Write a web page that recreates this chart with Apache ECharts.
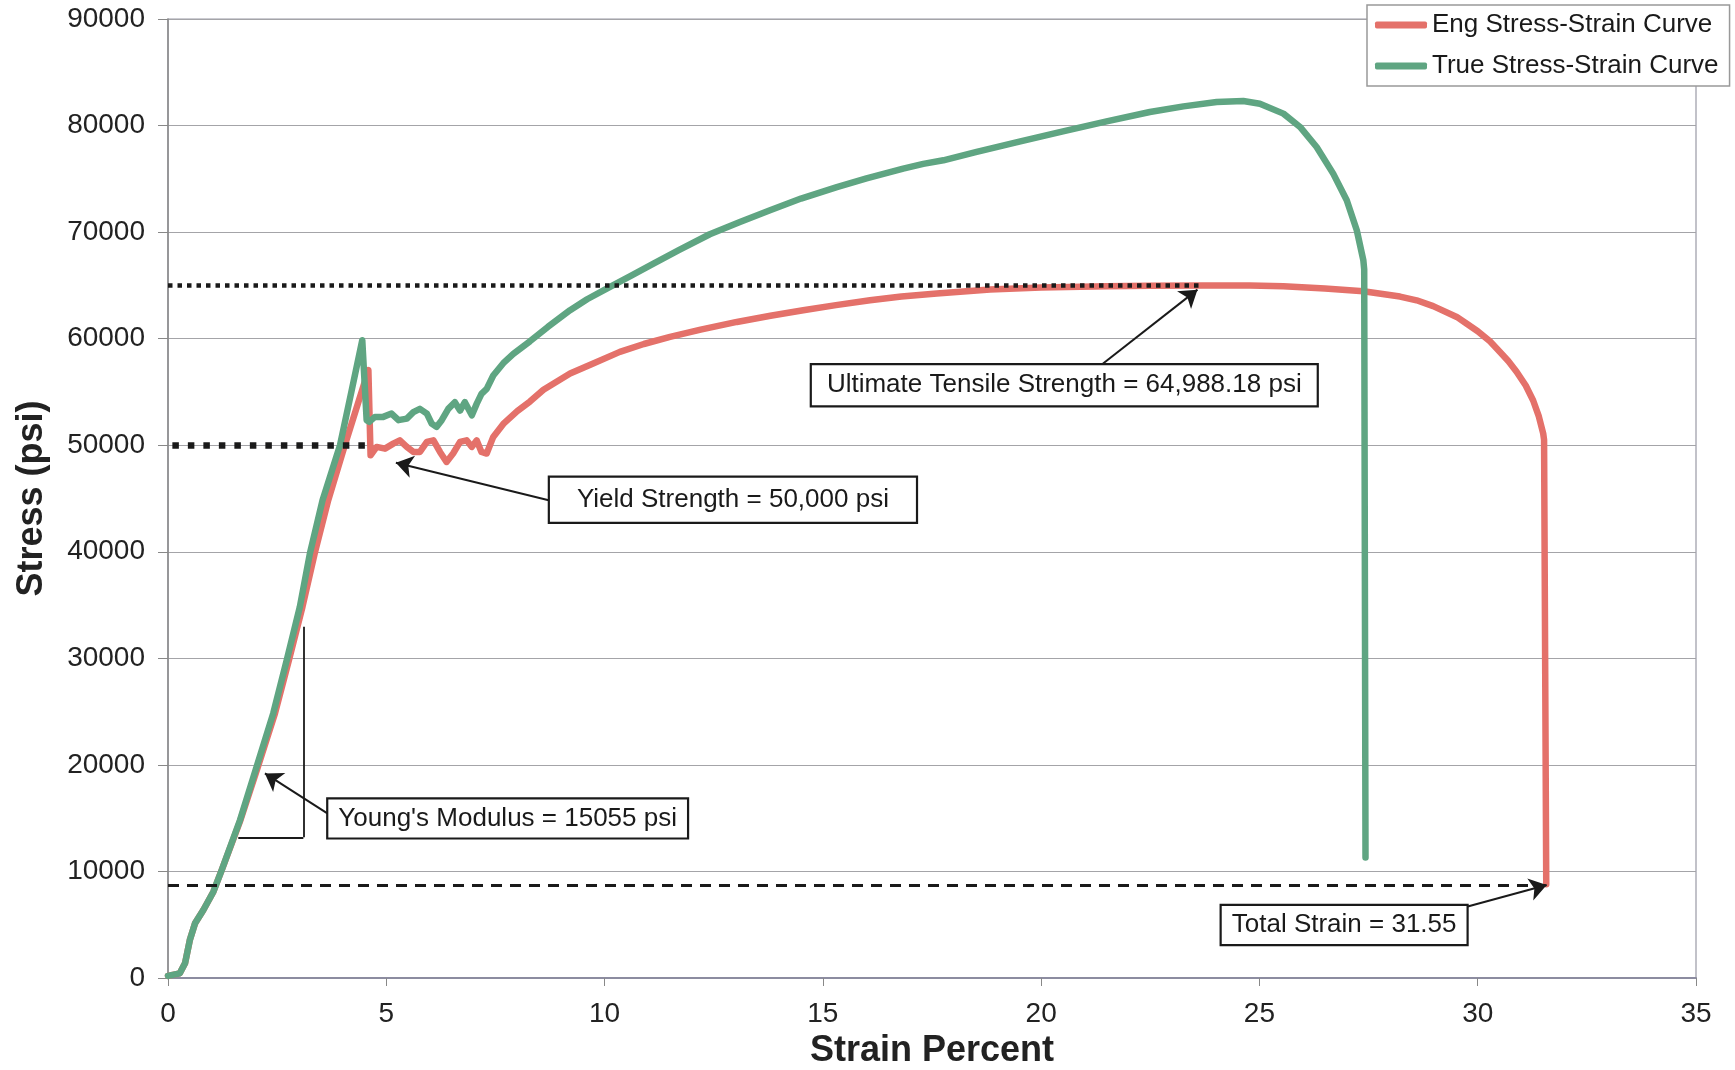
<!DOCTYPE html>
<html><head><meta charset="utf-8">
<script src="https://cdn.jsdelivr.net/npm/echarts@6/dist/echarts.min.js"></script>
<style>html,body{margin:0;padding:0;background:#fff}#c{width:1735px;height:1070px}</style>
</head><body><div id="c"></div>
<script>
// ---- data (strain %, stress psi) ----
const engStrain = [0,0.27,0.39,0.5,0.62,0.81,1.04,1.23,1.66,2.06,2.45,2.77,3.08,3.36,3.67,4.05,4.59,4.64,4.78,4.97,5.16,5.31,5.47,5.62,5.77,5.93,6.08,6.23,6.38,6.53,6.69,6.84,6.96,7.07,7.18,7.30,7.45,7.68,8.0,8.29,8.6,9.21,9.7,10.35,10.9,11.5,12.2,13.03,13.8,14.55,15.3,16.08,16.8,17.61,18.83,20.0,21.5,22.49,23.71,24.78,25.55,26.5,27.38,28.22,28.6,28.98,29.52,29.75,30.0,30.28,30.51,30.7,30.89,31.1,31.27,31.4,31.5,31.52,31.57];
const engStress = [200,440,1380,3560,5130,6380,8100,10130,14820,19820,24830,29830,34830,39840,44840,50000,57040,49060,49840,49680,50150,50460,49840,49370,49370,50310,50460,49370,48430,49220,50310,50460,49840,50460,49370,49220,50780,52000,53200,54100,55200,56730,57600,58760,59500,60160,60850,61570,62150,62670,63150,63600,63950,64230,64610,64800,64930,64970,65000,64990,64910,64700,64450,63950,63600,63050,62040,61400,60700,59750,58750,57900,56900,55600,54200,52700,51100,50500,8800];
const trueStrain = [0,0.27,0.39,0.5,0.62,0.81,1.04,1.23,1.65,2.03,2.41,2.72,3.02,3.25,3.54,3.94,4.2,4.45,4.55,4.61,4.74,4.93,5.12,5.28,5.47,5.62,5.77,5.93,6.04,6.15,6.27,6.42,6.57,6.69,6.80,6.96,7.07,7.18,7.30,7.45,7.68,7.91,8.29,8.7,9.21,9.6,10.05,10.6,11.12,11.7,12.41,13.1,13.79,14.5,15.32,16.0,16.84,17.3,17.76,18.5,19.5,20.5,21.5,22.49,23.26,24.02,24.63,25.01,25.55,25.93,26.31,26.69,27.0,27.23,27.38,27.40,27.43];
const trueStress = [200,440,1380,3560,5130,6380,8100,10130,14820,19820,24830,29830,34830,39840,44840,50000,55000,59850,52350,52190,52660,52660,52970,52350,52500,53100,53410,52970,52030,51720,52350,53410,54040,53250,54040,52810,53880,54820,55290,56540,57700,58570,59750,61100,62670,63700,64700,65900,67050,68300,69800,70950,72050,73150,74230,75050,75960,76400,76740,77500,78500,79450,80400,81270,81800,82210,82300,82050,81120,79870,77990,75490,72990,70170,67360,66500,11300];

const seriesNames = ['Eng Stress-Strain Curve', 'True Stress-Strain Curve'];
const xRange = [0, 35, 5];
const yRange = [0, 90000, 10000];

// ---- annotations (data coordinates) ----
const yieldStrength = 50000, yieldStrainEnd = 4.59;
const ultimateStrength = 64988.18, utsStrain = 23.7;
const fractureStress = 8700, totalStrain = 31.55;
const arrows = [
  {from:[21.39,57570], to:[23.58,64600]},
  {from:[8.72,44830], to:[5.22,48360]},
  {from:[3.65,15450], to:[2.22,19200]},
  {from:[29.75,6690], to:[31.58,8720]}
];
const bracket = [[1.61,13200],[3.1,13200],[3.1,32960]];
const boxes = [
  {text:'Ultimate Tensile Strength = 64,988.18 psi', at:[20.53,55630], pad:[7,15]},
  {text:'Yield Strength = 50,000 psi', at:[12.94,44880], pad:[9,27]},
  {text:"Young's Modulus = 15055 psi", at:[7.78,14980], pad:[6,10]},
  {text:'Total Strain = 31.55', at:[26.94,4970], pad:[6,10]}
];

const RED = '#E4716A', GREEN = '#5FA582', INK = '#1a1a1a';
const FONT = "'Liberation Sans', Arial, sans-serif";

const zip = (a, b) => a.map((v, i) => [v, b[i]]);

const markLines = [];
markLines.push([{coord:[0.1, yieldStrength], lineStyle:{color:INK, width:6.5, type:[6.5,9], cap:'butt'}}, {coord:[yieldStrainEnd, yieldStrength]}]);
markLines.push([{coord:[0, ultimateStrength], lineStyle:{color:INK, width:4.5, type:[4.5,5], cap:'butt'}}, {coord:[utsStrain, ultimateStrength]}]);
markLines.push([{coord:[0, fractureStress], lineStyle:{color:INK, width:3, type:[11,8], cap:'butt'}}, {coord:[totalStrain, fractureStress]}]);
for (let i = 0; i < bracket.length - 1; i++) {
  markLines.push([{coord:bracket[i], lineStyle:{color:INK, width:1.8, type:'solid'}}, {coord:bracket[i+1]}]);
}
arrows.forEach(a => {
  markLines.push([{coord:a.from, symbol:'none', lineStyle:{color:INK, width:2, type:'solid'}}, {coord:a.to, symbol:'arrow', symbolSize:17}]);
});

const markPoints = boxes.map(b => ({
  coord: b.at,
  symbol: 'rect', symbolSize: 1,
  itemStyle: {color:'rgba(0,0,0,0)'},
  label: {
    show:true, position:'inside', formatter:b.text,
    fontFamily:FONT, fontSize:26, lineHeight:26, color:INK,
    backgroundColor:'#fff', borderColor:INK, borderWidth:2.2,
    padding:b.pad
  }
}));

const chart = echarts.init(document.getElementById('c'), null, {renderer:'canvas'});
chart.setOption({
  animation:false,
  backgroundColor:'#fff',
  grid:{left:168, right:39, top:19, bottom:92, containLabel:false, outerBoundsMode:'none',
        show:true, borderColor:'#9a9aa6', borderWidth:1.2},
  legend:{
    left:1367, top:5, orient:'vertical',
    data:seriesNames.map(n => ({name:n, icon:'roundRect'})),
    itemWidth:52, itemHeight:7, itemGap:15,
    padding:[7,11,7,8],
    backgroundColor:'#fff', borderColor:'#999', borderWidth:1.5,
    textStyle:{fontFamily:FONT, fontSize:26, lineHeight:26, color:INK}
  },
  xAxis:{
    type:'value', min:xRange[0], max:xRange[1], interval:xRange[2],
    name:'Strain Percent', nameLocation:'middle', nameGap:50,
    nameTextStyle:{fontFamily:FONT, fontSize:36, fontWeight:'bold', color:'#222'},
    axisLine:{show:true, onZero:false, lineStyle:{color:'#8c8ca0', width:2}},
    axisTick:{show:true, inside:false, length:8, lineStyle:{color:'#888'}},
    axisLabel:{fontFamily:FONT, fontSize:28, color:'#222', margin:22},
    splitLine:{show:false}
  },
  yAxis:{
    type:'value', min:yRange[0], max:yRange[1], interval:yRange[2],
    name:'Stress (psi)', nameLocation:'middle', nameGap:118,
    nameTextStyle:{fontFamily:FONT, fontSize:36, fontWeight:'bold', color:'#222'},
    axisLine:{show:true, lineStyle:{color:'#888', width:1.5}},
    axisTick:{show:true, inside:false, length:10, lineStyle:{color:'#888'}},
    axisLabel:{fontFamily:FONT, fontSize:28, color:'#222', margin:23, formatter:v => String(v)},
    splitLine:{show:true, lineStyle:{color:'#a4a4a8', width:1.2}}
  },
  series:[
    {
      type:'line', name:seriesNames[0], data:zip(engStrain, engStress),
      showSymbol:false, symbol:'none', smooth:false, z:2,
      lineStyle:{color:RED, width:6.5, cap:'round', join:'round'},
      itemStyle:{color:RED}
    },
    {
      type:'line', name:seriesNames[1], data:zip(trueStrain, trueStress),
      showSymbol:false, symbol:'none', smooth:false, z:3,
      lineStyle:{color:GREEN, width:6.5, cap:'round', join:'round'},
      itemStyle:{color:GREEN},
      markLine:{silent:true, animation:false, symbol:['none','none'], label:{show:false},
                emphasis:{disabled:true}, data:markLines},
      markPoint:{silent:true, animation:false, data:markPoints}
    }
  ]
});
</script>
</body></html>
